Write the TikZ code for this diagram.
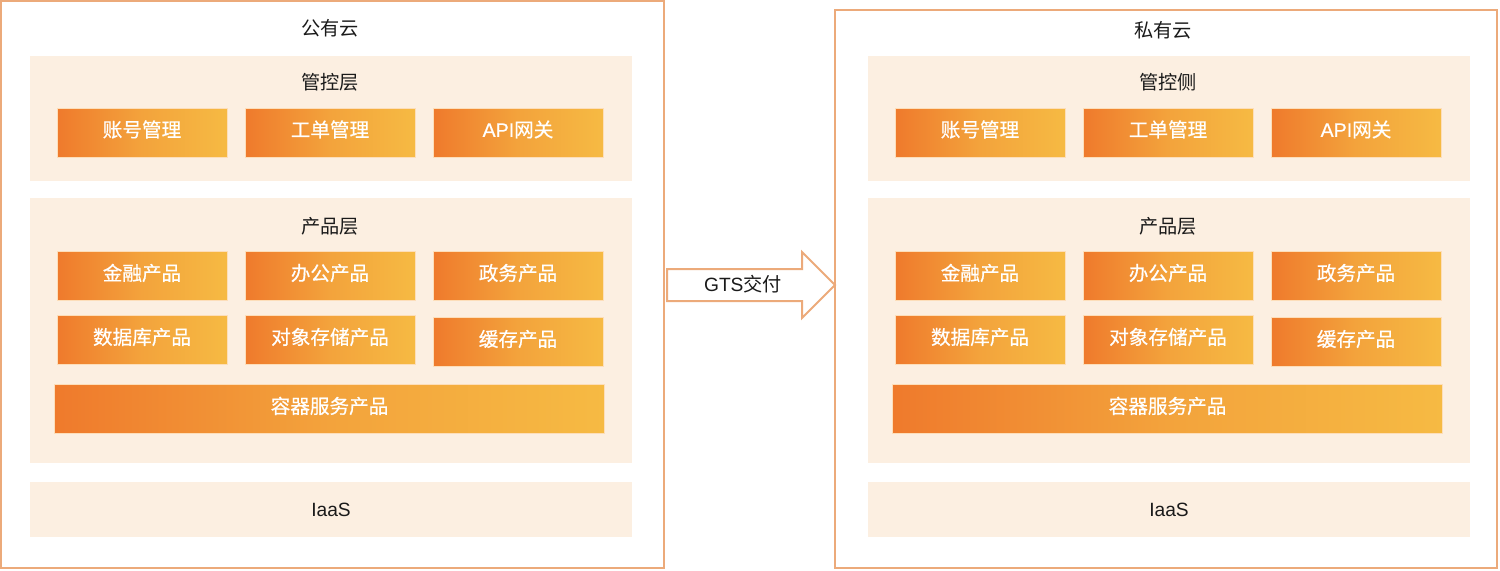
\documentclass[tikz,border=0pt]{standalone}
\usepackage{fontspec}
\setmainfont{Liberation Sans}
\newfontfamily\cjk{Noto Sans CJK SC}
\newfontfamily\cjkmod[FakeBold=0.6]{Noto Sans CJK SC}
\newfontfamily\latmod[FakeBold=0.6]{Liberation Sans}
\usetikzlibrary{shapes.arrows}

\definecolor{cloudline}{RGB}{236,170,122}
\definecolor{layerbg}{RGB}{252,239,225}
\definecolor{modleft}{RGB}{239,122,44}
\definecolor{modmid}{RGB}{243,163,60}
\definecolor{modright}{RGB}{246,186,67}
\definecolor{modedge}{RGB}{253,222,185}
\definecolor{labelink}{RGB}{26,26,26}

\newcommand{\apigw}{{\latmod API}网关}

\begin{document}
\begin{tikzpicture}[x=0.5pt,y=-0.5pt,
  every node/.style={font=\fontsize{9.6}{11.5}\selectfont\cjk},
  cloudbox/.style={draw=cloudline,line width=1pt,fill=white,inner sep=0},
  layer/.style={fill=layerbg,inner sep=0,minimum width=301pt},
  module/.style={left color=modleft,right color=modright,middle color=modmid,
    draw=modedge,line width=0.4pt,text=white,inner sep=0,
    font=\fontsize{9.8}{11.5}\selectfont\cjkmod,text height=6pt,text depth=1.6pt,
    minimum width=85pt,minimum height=24.5pt},
  title/.style={text=labelink},
  delivery/.style={single arrow,draw=cloudline,line width=1pt,fill=white,
    single arrow head extend=8.5pt,minimum height=84pt,
    text height=7pt,text depth=1pt,inner ysep=3.5pt,inner xsep=2pt,text=labelink}]

  \useasboundingbox (0,0) rectangle (1500,570);

  % the two clouds
  \node[cloudbox,minimum width=331.5pt,minimum height=283.5pt] (pubcloud) at (332.5,284.5) {};
  \node[cloudbox,minimum width=331pt,minimum height=278.75pt] (pricloud) at (1166,288.75) {};
  \node[title] (pubtitle) at (330,28) {公有云};
  \node[title] (prititle) at (1163,30) {私有云};

  % layers and modules, same on both sides
  \foreach \s/\dx/\ctl in {pub/0/管控层, pri/838/管控侧} {
    \node[layer,minimum height=62.5pt] (\s ctl) at ({331+\dx},118.5) {};
    \node[layer,minimum height=132.5pt] (\s prod) at ({331+\dx},330.5) {};
    \node[layer,minimum height=27.5pt,title] (\s iaas) at ({331+\dx},509.5) {\rmfamily IaaS};
    \node[title] (\s ctltitle) at ({330+\dx},82) {\ctl};
    \node[title] (\s prodtitle) at ({330+\dx},226) {产品层};

    % management modules
    \foreach \i/\x/\txt in {1/142/账号管理, 2/330/工单管理, 3/518/\apigw}
      \node[module] (\s mgmt\i) at ({\x+\dx},132.5) {\txt};

    % product modules
    \foreach \i/\x/\y/\txt in {1/142/276/金融产品, 2/330/276/办公产品, 3/518/276/政务产品,
                               4/142/340/数据库产品, 5/330/340/对象存储产品, 6/518/342/缓存产品}
      \node[module] (\s mod\i) at ({\x+\dx},\y) {\txt};
    \node[module,minimum width=275pt] (\s box) at ({329.5+\dx},409) {容器服务产品};
  }

  % delivery arrow from public to private cloud
  \coordinate (gtsfrom) at (666,285);
  \node[delivery,anchor=tail] (gts) at (gtsfrom) {{\rmfamily GTS}交付};
\end{tikzpicture}
\end{document}
